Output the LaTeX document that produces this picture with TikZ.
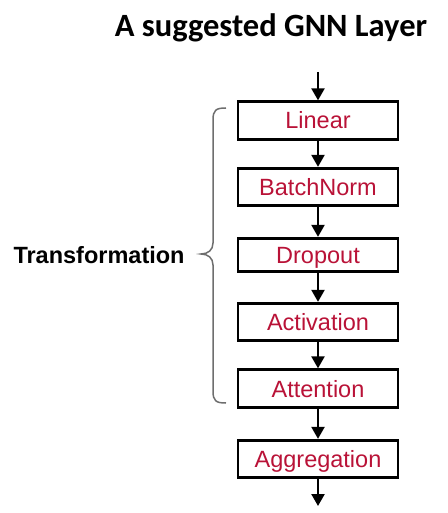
\documentclass[tikz,border=0pt]{standalone}
\usepackage{fontspec}
\setmainfont{Liberation Sans}
\newfontfamily\headfont{Carlito}
\usetikzlibrary{arrows.meta}
\definecolor{layerred}{RGB}{185,18,55}
\definecolor{bracegray}{RGB}{110,110,110}
\tikzset{layer/.style={draw, line width=2.8pt, minimum width=160pt, minimum height=37.5pt,
    inner sep=0pt, text height=17pt, text depth=0pt, text=layerred,
    font=\fontsize{23.5}{26}\selectfont},
  flow/.style={-{Triangle[width=13pt,length=12pt]}, line width=2.3pt}}

\begin{document}
\begin{tikzpicture}[x=1pt,y=-1pt]
      \useasboundingbox (0,0) rectangle (447,513);
      \node [anchor=base, font=\headfont\bfseries\fontsize{32.5}{36}\selectfont] (title) at (271,37) {A suggested GNN Layer};

      \node [layer] (lin) at (318,120.5) {Linear};
      \node [layer] (bn) at (318,187) {BatchNorm};
      \node [layer, minimum height=33.5pt] (drop) at (318,255) {Dropout};
      \node [layer] (act) at (318,322) {Activation};
      \node [layer] (att) at (318,388.5) {Attention};
      \node [layer] (agg) at (318,459) {Aggregation};

      \coordinate (in) at (318,72);
      \coordinate (out) at (318,506);
      \draw [flow] (in) -- (lin);
      \draw [flow] (lin) -- (bn);
      \draw [flow] (bn) -- (drop);
      \draw [flow] (drop) -- (act);
      \draw [flow] (act) -- (att);
      \draw [flow] (att) -- (agg);
      \draw [flow] (agg) -- (out);

      % brace over the transformation steps
      \draw [bracegray, line width=1.5pt] (226,108) .. controls (216,108) and (213,110) .. (213,120) -- (213,243)
        .. controls (213,250) and (208,254) .. (201,254) .. controls (208,254) and (213,258) .. (213,265)
        -- (213,391) .. controls (213,401) and (216,403) .. (226,403);
      \node [anchor=base west, font=\bfseries\fontsize{23.5}{26}\selectfont] (trans) at (10,263) {Transformation};
    \end{tikzpicture}
\end{document}
